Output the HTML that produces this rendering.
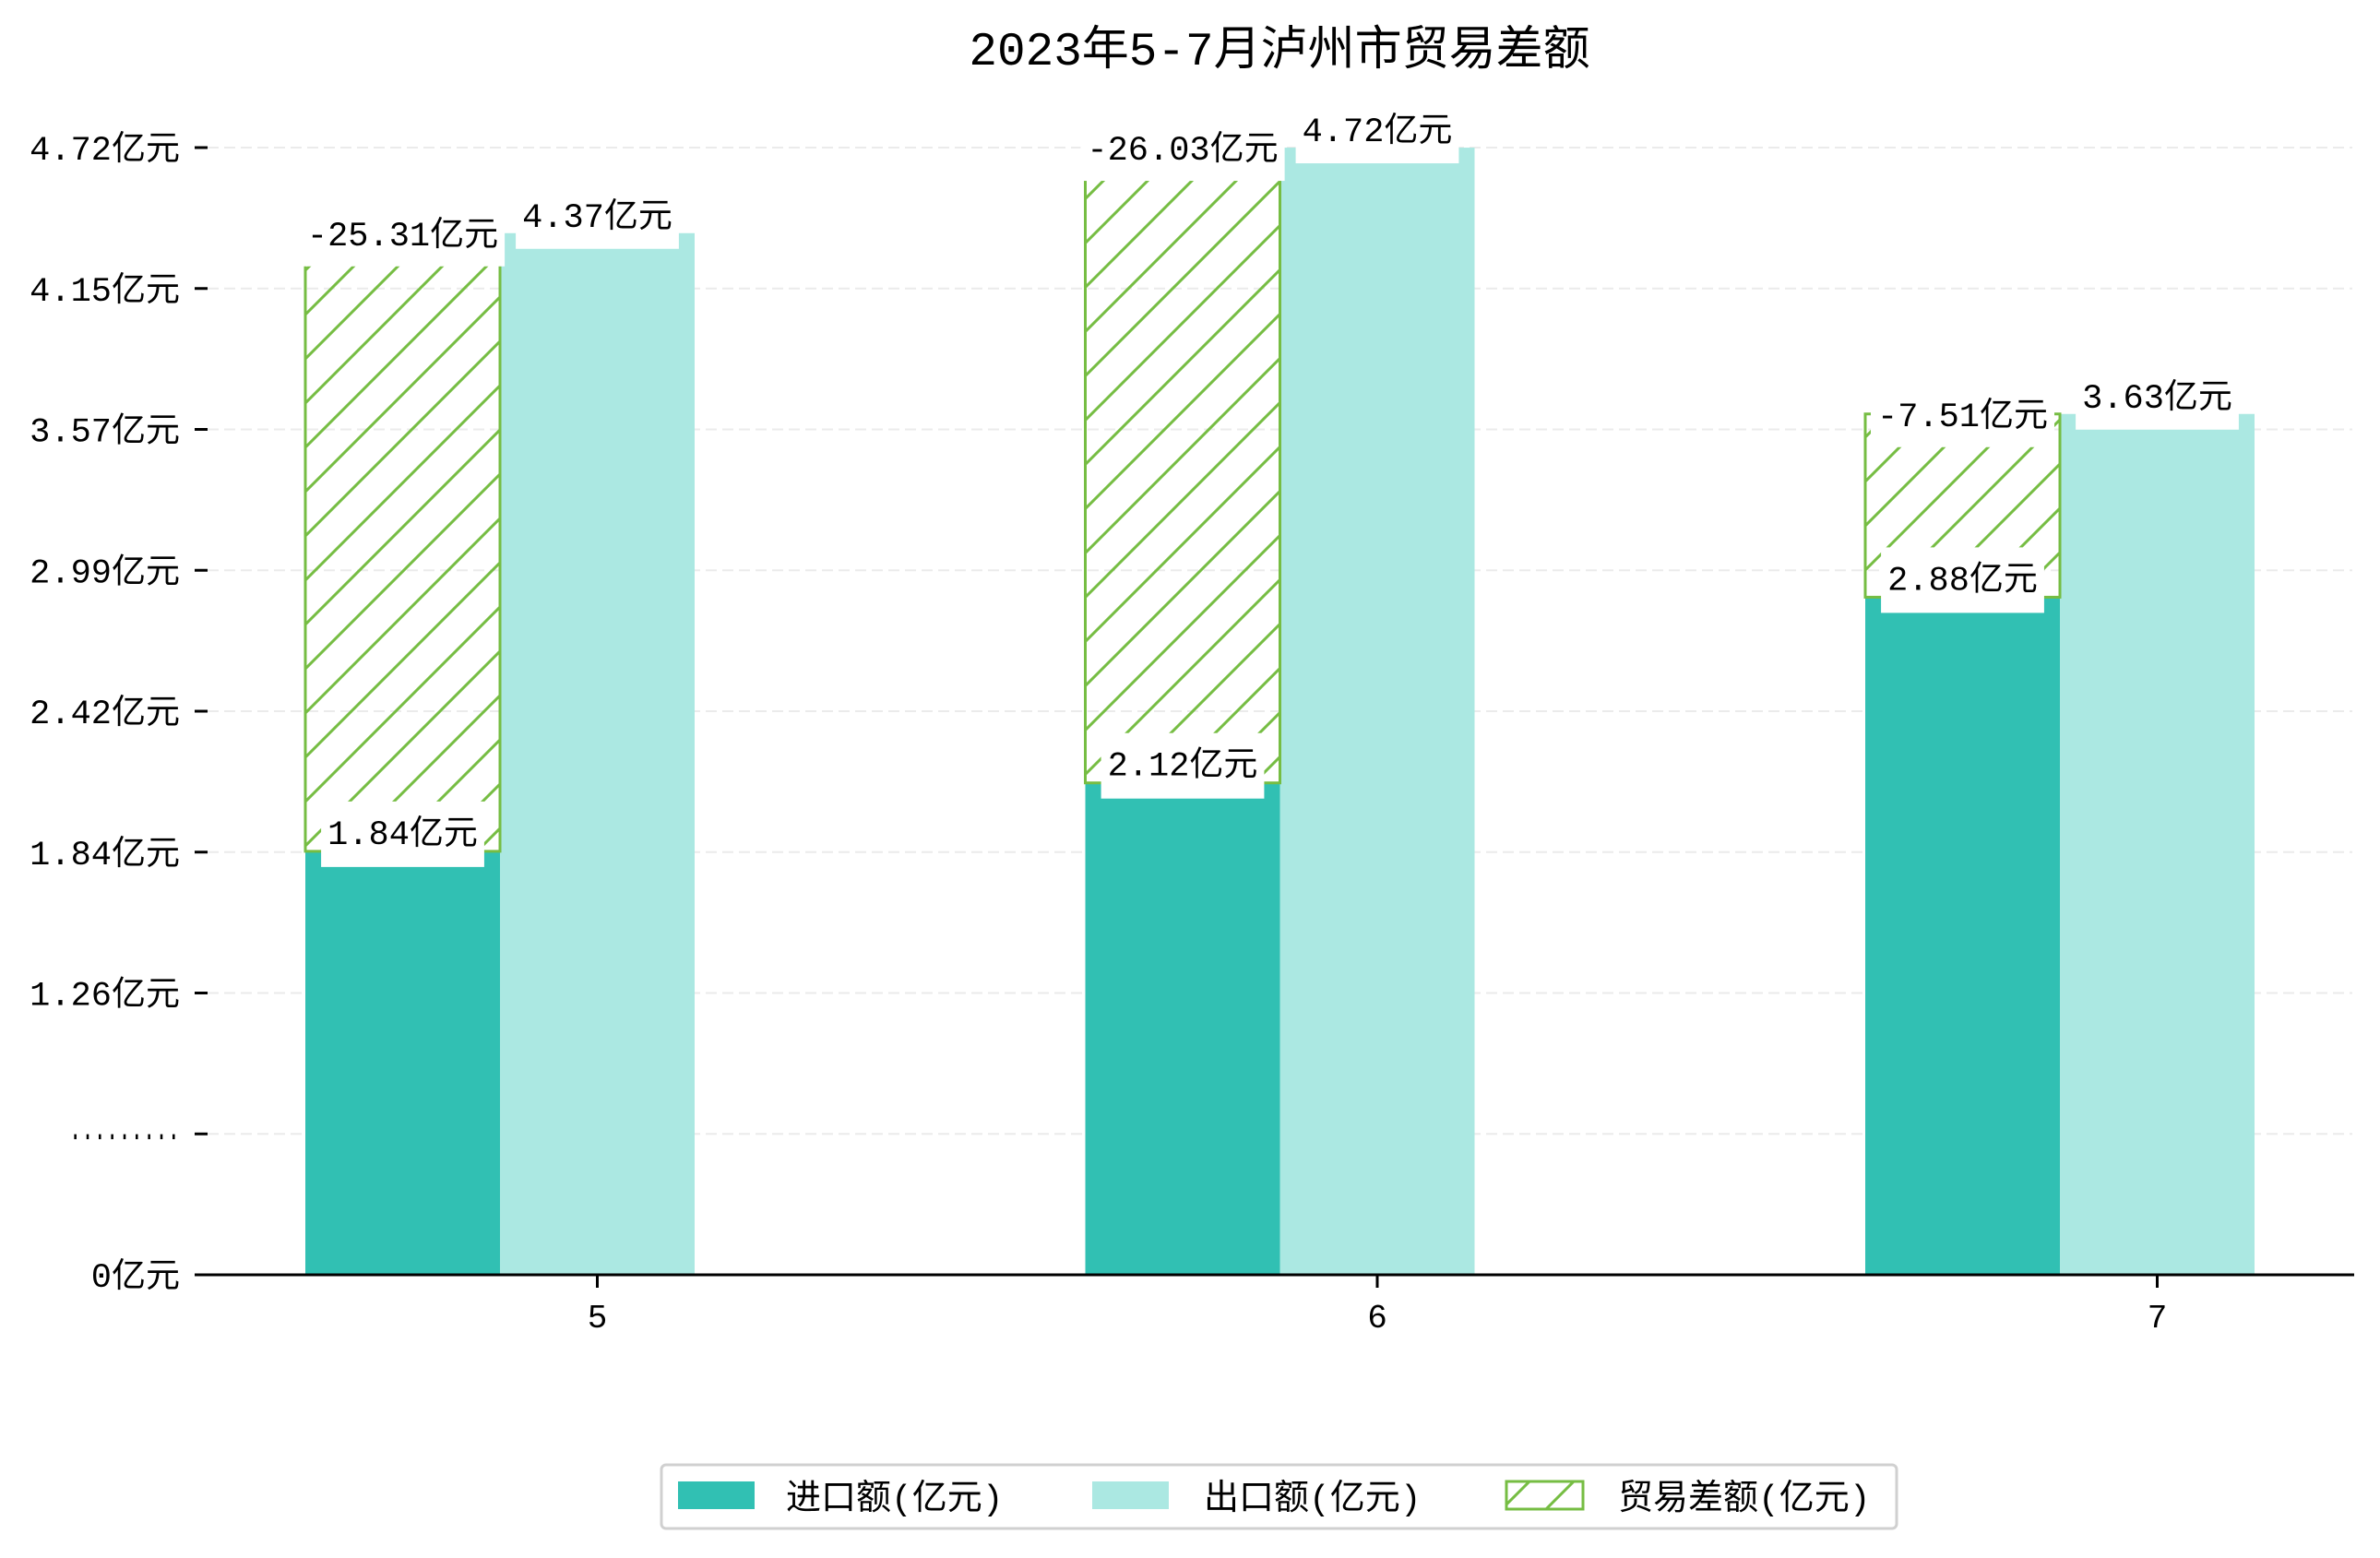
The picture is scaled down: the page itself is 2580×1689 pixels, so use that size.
<!DOCTYPE html>
<html><head><meta charset="utf-8"><style>
html,body{margin:0;padding:0;background:#fff;}
svg{display:block;font-family:"Liberation Mono","Noto Sans CJK SC","WenQuanYi Zen Hei",monospace;}
</style></head><body>
<svg id="chart" width="2580" height="1689" viewBox="0 0 2580 1689" xmlns="http://www.w3.org/2000/svg">
<defs>
<pattern id="hatch" patternUnits="userSpaceOnUse" width="48" height="48">
<path d="M-12,12 L12,-12 M0,48 L48,0 M36,60 L60,36" stroke="#76bd43" stroke-width="3"/>
</pattern>
</defs>
<text x="1387" y="70" font-size="51" text-anchor="middle" fill="#000">2023年5-7月泸州市贸易差额</text>
<g id="grid"></g>
<g id="bars"></g>
<g id="labels"></g>
<g id="axes"></g>
<g>
<rect x="717" y="1588" width="1339" height="69" rx="5" fill="#fff" stroke="#d0d0d0" stroke-width="3"/>
<rect x="735" y="1606" width="83" height="30" fill="#31c0b3"/>
<text x="852" y="1636" font-size="38">进口额(亿元)</text>
<rect x="1184" y="1606" width="83" height="30" fill="#abe8e2"/>
<text x="1305" y="1636" font-size="38">出口额(亿元)</text>
<rect x="1633" y="1606" width="83" height="30" fill="url(#hatch)" stroke="#76bd43" stroke-width="3"/>
<text x="1754" y="1636" font-size="38">贸易差额(亿元)</text>
</g>
</svg>
<script>
const months = ["5","6","7"];
const imports = [1.84, 2.12, 2.88];
const exports_ = [4.37, 4.72, 3.63];
const balances = [-25.31, -26.03, -7.51];
const tickLabels = ["0亿元","·········","1.26亿元","1.84亿元","2.42亿元","2.99亿元","3.57亿元","4.15亿元","4.72亿元"];
const tickVals = [0, 0.68, 1.26, 1.84, 2.42, 2.99, 3.57, 4.15, 4.72];

const NS = "http://www.w3.org/2000/svg";
const y0 = 1382, step = 152.75;
const yBase = y0 - 2*step;
const k = step/0.5767;
function yScale(v){
  if (v >= 1.26) return yBase - (v-1.26)*k;
  return y0 - v/1.26*(2*step);
}
function xGroup(i){ return 331 + i*845.5; }
const bw = 211;
function mk(tag, attrs, parent){
  const e = document.createElementNS(NS, tag);
  for (const a in attrs) e.setAttribute(a, attrs[a]);
  parent.appendChild(e); return e;
}
const grid = document.getElementById('grid');
const bars = document.getElementById('bars');
const labels = document.getElementById('labels');
const axes = document.getElementById('axes');

tickLabels.forEach((t,i)=>{
  const y = y0 - i*step;
  if (i>0){
    const g = mk('line',{x1:225,x2:2550,y1:y,y2:y,stroke:'#ebebeb','stroke-width':2,'stroke-dasharray':'12,6'},grid);
    
    
  }
  const tm = mk('line',{x1:211,x2:225,y1:y,y2:y,stroke:'#000','stroke-width':3},axes);
  
  
  const tx = mk('text',{x:195,y:y+13,'font-size':37,'text-anchor':'end',fill:'#000'},axes);
  tx.textContent = t;
  if (i===1){ tx.setAttribute('textLength','120'); tx.setAttribute('lengthAdjust','spacingAndGlyphs'); }
  
  
});
const ax = mk('line',{x1:211,x2:2552,y1:y0,y2:y0,stroke:'#000','stroke-width':3},axes);



months.forEach((m,i)=>{
  const x = xGroup(i);
  const yi = yScale(imports[i]), ye = yScale(exports_[i]);
  const b1 = mk('rect',{x:x,y:yi,width:bw,height:y0-yi,fill:'#31c0b3'},bars);
  
  
  const b2 = mk('rect',{x:x+bw,y:ye,width:bw,height:y0-ye,fill:'#abe8e2'},bars);
  
  
  const b3 = mk('rect',{x:x,y:ye,width:bw,height:yi-ye,fill:'url(#hatch)',stroke:'#76bd43','stroke-width':3},bars);
  
  
  const xt = x+bw*1.5;
  const tk = mk('line',{x1:xt,x2:xt,y1:y0,y2:y0+14,stroke:'#000','stroke-width':3},axes);
  
  
  const tl = mk('text',{x:xt,y:y0+57,'font-size':36,'text-anchor':'middle'},axes);
  tl.textContent = m;
  
  

  function label(txt, cx, ty, top, bottom, name){
    const r = mk('rect',{y:top,height:bottom-top,fill:'#fff'},labels);
    
    
    const t = mk('text',{x:cx,y:ty+13,'font-size':37,'text-anchor':'middle'},labels);
    t.textContent = txt;
    
    
    const w = t.getComputedTextLength()+14;
    r.setAttribute('x',cx-w/2); r.setAttribute('width',w);
  }
  label(balances[i].toFixed(2)+'亿元', x+bw/2, ye, ye-32, ye+36, 'label-balance-'+m);
  label(exports_[i].toFixed(2)+'亿元', x+bw*1.5, ye-20, ye-48, ye+17, 'label-export-'+m);
  label(imports[i].toFixed(2)+'亿元', x+bw/2, yi-21, yi-54, yi+17, 'label-import-'+m);
});
</script>
</body></html>
